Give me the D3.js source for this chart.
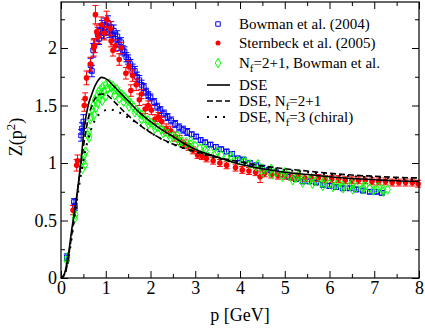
<!DOCTYPE html>
<html>
<head>
<meta charset="utf-8">
<script src="https://cdn.jsdelivr.net/npm/d3@7"></script>
<style>
  body { margin: 0; background: #fff; }
  svg text { font-family: "Liberation Serif", "Times New Roman", serif; fill: #000; }
</style>
</head>
<body>
<div id="chart"></div>
<script>
// lattice data: [p, Z, error]
const bowman2004 = [
  [0.13,0.18,0.03],[0.29,0.66,0.03],[0.31,0.62,0.03],[0.45,1.24,0.05],[0.47,1.30,0.05],[0.50,1.36,0.06],
  [0.66,1.85,0.06],[0.69,1.80,0.05],[0.72,1.98,0.06],[0.74,2.02,0.06],[0.82,2.12,0.06],[0.85,2.08,0.05],
  [0.88,2.15,0.06],[0.92,2.18,0.06],[0.95,2.13,0.05],[0.98,2.20,0.06],[1.02,2.16,0.05],[1.05,2.22,0.06],
  [1.08,2.14,0.05],[1.12,2.18,0.05],[1.15,2.12,0.05],[1.18,2.15,0.05],[1.22,2.08,0.05],[1.26,2.10,0.05],
  [1.30,2.03,0.05],[1.34,2.05,0.04],[1.38,1.98,0.04],[1.42,1.97,0.04],[1.46,1.92,0.04],[1.50,1.90,0.04],
  [1.55,1.86,0.04],[1.60,1.82,0.04],[1.65,1.80,0.04],[1.70,1.75,0.04],[1.75,1.72,0.04],[1.80,1.68,0.04],
  [1.85,1.66,0.03],[1.90,1.62,0.03],[1.95,1.59,0.03],[2.00,1.57,0.03],[2.08,1.53,0.03],[2.15,1.49,0.03],
  [2.22,1.46,0.03],[2.30,1.43,0.03],[2.38,1.40,0.03],[2.46,1.37,0.03],[2.55,1.34,0.03],[2.64,1.31,0.03],
  [2.73,1.29,0.03],[2.82,1.27,0.03],[2.92,1.25,0.02],[3.02,1.23,0.02],[3.12,1.20,0.02],[3.22,1.18,0.02],
  [3.34,1.16,0.02],[3.46,1.14,0.02],[3.58,1.12,0.02],[3.70,1.10,0.02],[3.82,1.08,0.02],[3.95,1.04,0.02],
  [4.08,1.03,0.02],[4.22,1.00,0.02],[4.36,0.98,0.02],[4.50,0.96,0.02],[4.65,0.94,0.02],[4.80,0.92,0.02],
  [4.95,0.90,0.02],[5.10,0.88,0.02],[5.25,0.86,0.02],[5.40,0.84,0.02],[5.55,0.84,0.02],[5.70,0.83,0.02],
  [5.85,0.81,0.02],[6.00,0.80,0.02],[6.15,0.79,0.02],[6.30,0.78,0.02],[6.45,0.78,0.02],[6.60,0.77,0.02],
  [6.75,0.76,0.02],[6.90,0.75,0.02],[7.05,0.75,0.02],[7.17,0.74,0.02]
];

const sternbeck2005 = [
  [0.27,0.59,0.04],[0.35,0.98,0.05],[0.37,1.02,0.05],[0.52,1.50,0.05],[0.54,1.56,0.05],[0.57,1.74,0.06],
  [0.66,1.86,0.06],[0.73,2.00,0.07],[0.75,2.02,0.06],[0.77,2.29,0.08],[0.80,2.14,0.06],[0.83,2.10,0.06],
  [0.90,2.20,0.07],[0.97,2.13,0.06],[1.02,2.25,0.07],[1.10,2.17,0.06],[1.12,2.06,0.05],[1.16,1.98,0.05],
  [1.22,2.02,0.05],[1.30,1.90,0.05],[1.35,2.00,0.05],[1.45,1.78,0.05],[1.52,1.84,0.05],[1.56,1.63,0.05],
  [1.60,1.76,0.05],[1.68,1.68,0.05],[1.75,1.55,0.05],[1.80,1.60,0.04],[1.88,1.47,0.04],[1.95,1.50,0.04],
  [2.02,1.46,0.04],[2.10,1.38,0.04],[2.18,1.40,0.04],[2.25,1.36,0.04],[2.35,1.30,0.04],[2.45,1.28,0.04],
  [2.55,1.23,0.04],[2.65,1.20,0.04],[2.75,1.17,0.03],[2.85,1.14,0.03],[2.95,1.11,0.03],[3.05,1.07,0.03],
  [3.15,1.06,0.03],[3.25,1.04,0.03],[3.40,1.02,0.03],[3.55,1.00,0.03],[3.70,0.98,0.03],[3.90,0.96,0.03],
  [4.05,0.94,0.03],[4.20,0.93,0.03],[4.35,0.92,0.03],[4.45,0.88,0.05],[4.55,0.91,0.03],[4.70,0.90,0.03],
  [4.85,0.89,0.03],[5.00,0.89,0.03],[5.15,0.88,0.03],[5.30,0.88,0.03],[5.45,0.87,0.03],[5.60,0.87,0.03],
  [5.75,0.87,0.03],[5.90,0.86,0.03],[6.05,0.86,0.03],[6.20,0.86,0.03],[6.35,0.85,0.03],[6.50,0.85,0.03],
  [6.65,0.85,0.03],[6.80,0.85,0.03],[6.95,0.84,0.03],[7.10,0.84,0.03],[7.25,0.84,0.03],[7.40,0.83,0.03],
  [7.55,0.83,0.03],[7.70,0.83,0.03],[7.85,0.83,0.03],[7.98,0.82,0.03]
];

// Nf=2+1 data: [p, Z]
const bowmanNf21 = [
  [0.13,0.15],[0.14,0.18],[0.31,0.52],[0.32,0.55],[0.48,0.95],[0.50,1.02],[0.52,1.07],[0.53,0.98],
  [0.55,1.10],[0.60,1.24],[0.62,1.27],[0.63,1.22],[0.65,1.38],[0.68,1.40],[0.70,1.46],[0.72,1.50],
  [0.74,1.42],[0.76,1.55],[0.78,1.48],[0.80,1.58],[0.82,1.52],[0.84,1.62],[0.86,1.56],[0.88,1.64],
  [0.90,1.60],[0.93,1.66],[0.96,1.62],[1.00,1.68],[1.04,1.65],[1.08,1.69],[1.12,1.66],[1.16,1.67],
  [1.20,1.64],[1.25,1.64],[1.30,1.61],[1.35,1.60],[1.40,1.58],[1.45,1.56],[1.50,1.54],[1.56,1.52],
  [1.62,1.49],[1.68,1.46],[1.74,1.44],[1.80,1.42],[1.87,1.39],[1.94,1.37],[2.01,1.35],[2.08,1.33],
  [2.16,1.31],[2.24,1.29],[2.32,1.27],[2.40,1.25],[2.50,1.23],[2.60,1.21],[2.70,1.19],[2.80,1.18],
  [2.90,1.16],[3.00,1.15],[3.10,1.13],[3.22,1.11],[3.34,1.10],[3.46,1.08],[3.58,1.07],[3.70,1.05],
  [3.82,1.04],[3.95,1.02],[4.08,1.01],[4.22,0.99],[4.36,0.97],[4.50,0.95],[4.65,0.93],[4.80,0.92],
  [4.95,0.90],[5.10,0.89],[5.25,0.87],[5.40,0.86],[5.55,0.85],[5.70,0.84],[5.85,0.83],[6.00,0.82],
  [6.15,0.81],[6.30,0.80],[6.45,0.80],[6.60,0.79],[6.75,0.79],[6.90,0.78],[7.05,0.78],[7.20,0.77],
  [7.30,0.77],
  [0.92,1.54],[1.00,1.58],[1.10,1.60],[1.20,1.59],[1.30,1.56],[1.40,1.53],[1.52,1.49],[1.65,1.44],
  [1.80,1.38],[1.95,1.34],[2.10,1.30],[2.28,1.26],[2.45,1.22],[2.65,1.18],[2.85,1.15],
  [4.50,0.92],[4.72,0.90],[4.95,0.88],[5.18,0.85],[5.40,0.83],[5.62,0.82],[5.85,0.80],[6.08,0.79],
  [6.30,0.78],[6.52,0.77],[6.75,0.77],[6.98,0.76],[7.20,0.75],
  [2.60,1.24],[2.90,1.19],[3.20,1.14],[3.50,1.10],[3.80,1.06],[4.10,1.02],[4.40,0.99],[4.70,0.95],
  [5.00,0.92],[5.30,0.89],[5.60,0.87],[5.90,0.85],[6.20,0.83],[6.50,0.82],[6.80,0.80],[7.10,0.79]
];

// DSE curves: [p, Z]
const dse = [
  [0,0],[0.05,0.01],[0.1,0.07],[0.15,0.17],[0.2,0.3],[0.24,0.42],[0.3,0.57],[0.35,0.71],[0.4,0.86],
  [0.44,1.0],[0.48,1.15],[0.51,1.28],[0.56,1.41],[0.62,1.52],[0.69,1.6],[0.76,1.67],[0.83,1.72],
  [0.9,1.745],[0.97,1.74],[1.05,1.72],[1.15,1.68],[1.3,1.62],[1.5,1.54],[1.75,1.44],[2.0,1.36],
  [2.25,1.29],[2.5,1.23],[2.75,1.17],[3.0,1.12],[3.5,1.05],[4.0,0.99],[4.5,0.95],[5.0,0.92],
  [5.5,0.9],[6.0,0.88],[6.5,0.865],[7.0,0.855],[7.5,0.845],[8.0,0.84]
];
const dseNf21 = [
  [0,0],[0.1,0.05],[0.2,0.27],[0.3,0.55],[0.4,0.85],[0.5,1.14],[0.6,1.37],[0.7,1.51],[0.8,1.58],
  [0.9,1.6],[1.0,1.595],[1.2,1.53],[1.4,1.45],[1.6,1.38],[1.9,1.29],[2.25,1.21],[2.6,1.15],
  [3.0,1.1],[3.5,1.05],[4.0,1.01],[4.5,0.975],[5.0,0.95],[5.5,0.93],[6.0,0.91],[6.5,0.895],
  [7.0,0.885],[7.5,0.875],[8.0,0.87]
];
const dseNf3 = [
  [0,0],[0.1,0.05],[0.2,0.25],[0.3,0.52],[0.4,0.79],[0.5,1.02],[0.6,1.2],[0.7,1.32],[0.8,1.4],
  [0.9,1.44],[1.0,1.46],[1.1,1.465],[1.25,1.45],[1.4,1.42],[1.6,1.37],[1.85,1.31],[2.1,1.24],
  [2.4,1.18],[2.8,1.12],[3.2,1.07],[3.6,1.03],[4.0,1.0],[4.5,0.965],[5.0,0.94],[5.5,0.92],
  [6.0,0.9],[6.5,0.885],[7.0,0.875],[7.5,0.865],[8.0,0.855]
];

const xTicks = [0, 1, 2, 3, 4, 5, 6, 7, 8];
const yTicks = [0, 0.5, 1, 1.5, 2];

const W = 425, H = 328;
const mLeft = 61, mRight = 419, mTop = 2, mBottom = 278;
const serif = "Liberation Serif, Times New Roman, serif";

const svg = d3.select("#chart").append("svg")
    .attr("width", W)
    .attr("height", H)
    .attr("font-family", serif);

const x = d3.scaleLinear().domain([0, 8]).range([mLeft, mRight]);
const y = d3.scaleLinear().domain([0, 2.4]).range([mBottom, mTop]);

// error bars helper
function errorBars(data, color) {
    const g = svg.append("g").attr("stroke", color).attr("stroke-width", 1);
    data.forEach(d => {
        const cx = x(d[0]);
        g.append("line").attr("x1", cx).attr("x2", cx).attr("y1", y(d[1] - d[2])).attr("y2", y(d[1] + d[2]));
        g.append("line").attr("x1", cx - 3).attr("x2", cx + 3).attr("y1", y(d[1] - d[2])).attr("y2", y(d[1] - d[2]));
        g.append("line").attr("x1", cx - 3).attr("x2", cx + 3).attr("y1", y(d[1] + d[2])).attr("y2", y(d[1] + d[2]));
    });
}

const sq = d3.symbol().type(d3.symbolSquare).size(22);
const dia = d3.symbol().type(d3.symbolDiamond).size(26);

// Bowman 2004 - blue open squares
errorBars(bowman2004, "#0000ff");
svg.append("g").selectAll("path")
    .data(bowman2004)
    .join("path")
    .attr("d", sq)
    .attr("transform", d => `translate(${x(d[0])},${y(d[1])})`)
    .attr("fill", "none")
    .attr("stroke", "#0000ff")
    .attr("stroke-width", 1);

// Sternbeck 2005 - red dots
errorBars(sternbeck2005, "#ff0000");
svg.append("g").selectAll("circle")
    .data(sternbeck2005)
    .join("circle")
    .attr("cx", d => x(d[0]))
    .attr("cy", d => y(d[1]))
    .attr("r", 2.8)
    .attr("fill", "#ff0000");

// Nf=2+1 - green open diamonds
svg.append("g").selectAll("path")
    .data(bowmanNf21)
    .join("path")
    .attr("d", dia)
    .attr("transform", d => `translate(${x(d[0])},${y(d[1])})`)
    .attr("fill", "none")
    .attr("stroke", "#00ff00")
    .attr("stroke-width", 1);

// DSE curves
const line = d3.line().x(d => x(d[0])).y(d => y(d[1])).curve(d3.curveMonotoneX);
svg.append("path").datum(dse).attr("d", line)
    .attr("fill", "none").attr("stroke", "#000").attr("stroke-width", 1.6);
svg.append("path").datum(dseNf21).attr("d", line)
    .attr("fill", "none").attr("stroke", "#000").attr("stroke-width", 1.6)
    .attr("stroke-dasharray", "6,3");
svg.append("path").datum(dseNf3).attr("d", line)
    .attr("fill", "none").attr("stroke", "#000").attr("stroke-width", 2)
    .attr("stroke-dasharray", "2,6");

// axes with inward ticks on all sides
const minorX = d3.range(0.5, 8, 1);
const minorY = [0.25, 0.75, 1.25, 1.75, 2.25];

function styleAxis(g) {
    g.select(".domain").remove();
    g.attr("font-family", serif);
    g.selectAll(".tick line").attr("stroke", "#000");
}

svg.append("g").attr("transform", `translate(0,${mBottom})`)
    .call(d3.axisBottom(x).tickValues(xTicks).tickSize(-7).tickPadding(3).tickFormat(d3.format("d")))
    .call(styleAxis)
    .selectAll("text").attr("font-size", 18);
svg.append("g").attr("transform", `translate(0,${mBottom})`)
    .call(d3.axisBottom(x).tickValues(minorX).tickSize(-4).tickFormat(""))
    .call(styleAxis);
svg.append("g").attr("transform", `translate(0,${mTop})`)
    .call(d3.axisTop(x).tickValues(xTicks).tickSize(-7).tickFormat(""))
    .call(styleAxis);
svg.append("g").attr("transform", `translate(0,${mTop})`)
    .call(d3.axisTop(x).tickValues(minorX).tickSize(-4).tickFormat(""))
    .call(styleAxis);

svg.append("g").attr("transform", `translate(${mLeft},0)`)
    .call(d3.axisLeft(y).tickValues(yTicks).tickSize(-7).tickPadding(4).tickFormat(d3.format("")))
    .call(styleAxis)
    .selectAll("text").attr("font-size", 18);
svg.append("g").attr("transform", `translate(${mLeft},0)`)
    .call(d3.axisLeft(y).tickValues(minorY).tickSize(-4).tickFormat(""))
    .call(styleAxis);
svg.append("g").attr("transform", `translate(${mRight},0)`)
    .call(d3.axisRight(y).tickValues(yTicks).tickSize(-7).tickFormat(""))
    .call(styleAxis);
svg.append("g").attr("transform", `translate(${mRight},0)`)
    .call(d3.axisRight(y).tickValues(minorY).tickSize(-4).tickFormat(""))
    .call(styleAxis);

svg.append("rect")
    .attr("x", mLeft).attr("y", mTop)
    .attr("width", mRight - mLeft).attr("height", mBottom - mTop)
    .attr("fill", "none").attr("stroke", "#000").attr("stroke-width", 1.2);

// axis titles
svg.append("text")
    .attr("x", (mLeft + mRight) / 2).attr("y", 321)
    .attr("text-anchor", "middle").attr("font-size", 18)
    .text("p [GeV]");

const yl = svg.append("text")
    .attr("transform", "translate(22,137) rotate(-90)")
    .attr("text-anchor", "middle").attr("font-size", 18);
yl.append("tspan").text("Z(p");
yl.append("tspan").attr("dy", -7).attr("font-size", 13).text("2");
yl.append("tspan").attr("dy", 7).text(")");

// legend
const legend = svg.append("g").attr("font-size", 15).attr("font-family", serif);
const lx = 218, tx = 239;

legend.append("path").attr("d", d3.symbol().type(d3.symbolSquare).size(20))
    .attr("transform", `translate(${lx},24)`).attr("fill", "none").attr("stroke", "#0000ff");
legend.append("text").attr("x", tx).attr("y", 29).text("Bowman et al. (2004)");

legend.append("circle").attr("cx", lx).attr("cy", 43).attr("r", 2.5).attr("fill", "#ff0000");
legend.append("text").attr("x", tx).attr("y", 48).text("Sternbeck et al. (2005)");

legend.append("path").attr("d", d3.symbol().type(d3.symbolDiamond).size(26))
    .attr("transform", `translate(${lx},63)`).attr("fill", "none").attr("stroke", "#00ff00");
const t3 = legend.append("text").attr("x", tx).attr("y", 68);
t3.append("tspan").text("N");
t3.append("tspan").attr("dy", 4).attr("font-size", 11).text("f");
t3.append("tspan").attr("dy", -4).text("=2+1, Bowman et al.");

legend.append("line").attr("x1", 207).attr("x2", 230).attr("y1", 85).attr("y2", 85)
    .attr("stroke", "#000").attr("stroke-width", 1.6);
legend.append("text").attr("x", tx).attr("y", 90).text("DSE");

legend.append("line").attr("x1", 207).attr("x2", 230).attr("y1", 101).attr("y2", 101)
    .attr("stroke", "#000").attr("stroke-width", 1.6).attr("stroke-dasharray", "6,3");
const t5 = legend.append("text").attr("x", tx).attr("y", 106);
t5.append("tspan").text("DSE, N");
t5.append("tspan").attr("dy", 4).attr("font-size", 11).text("f");
t5.append("tspan").attr("dy", -4).text("=2+1");

legend.append("line").attr("x1", 207).attr("x2", 230).attr("y1", 117).attr("y2", 117)
    .attr("stroke", "#000").attr("stroke-width", 2).attr("stroke-dasharray", "2,6");
const t6 = legend.append("text").attr("x", tx).attr("y", 122);
t6.append("tspan").text("DSE, N");
t6.append("tspan").attr("dy", 4).attr("font-size", 11).text("f");
t6.append("tspan").attr("dy", -4).text("=3 (chiral)");
</script>
</body>
</html>
